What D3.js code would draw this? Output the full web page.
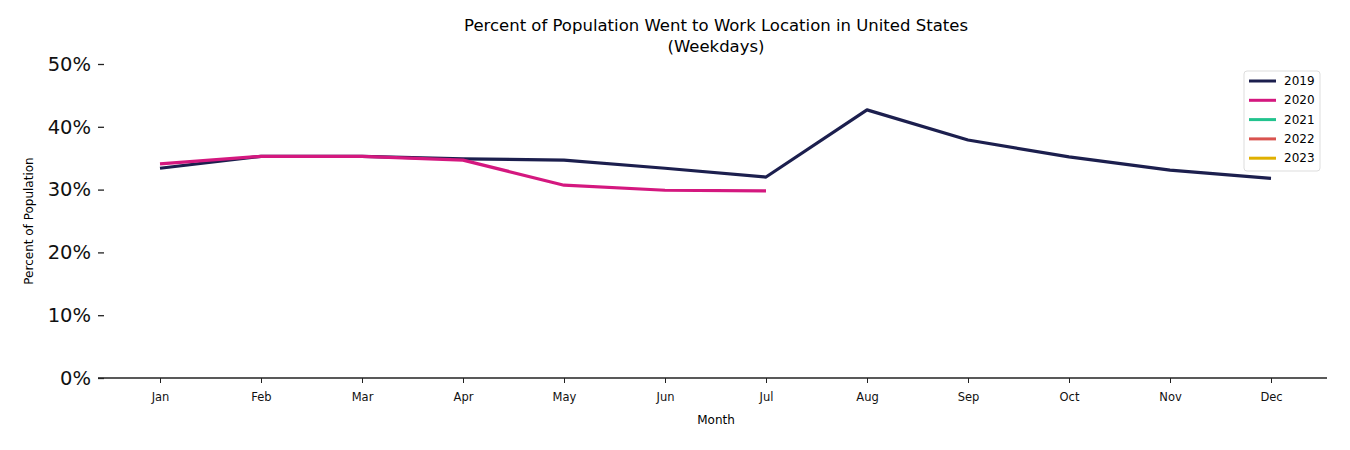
<!DOCTYPE html>
<html>
<head>
<meta charset="utf-8">
<script src="https://cdn.jsdelivr.net/npm/d3@7"></script>
<style>
  body { margin: 0; background: #fff; }
  text { font-family: "DejaVu Sans", sans-serif; }
</style>
</head>
<body>
<div id="chart"></div>
<script>
const months = ["Jan", "Feb", "Mar", "Apr", "May", "Jun", "Jul", "Aug", "Sep", "Oct", "Nov", "Dec"];
const years = ["2019", "2020", "2021", "2022", "2023"];
const colors = ["#1c1f4e", "#d4187f", "#22c38e", "#d9534f", "#e0b000"];
const v2019 = [33.4, 35.3, 35.3, 34.9, 34.7, 33.4, 32.0, 42.7, 37.9, 35.2, 33.1, 31.8];
const v2020 = [34.1, 35.3, 35.3, 34.7, 30.7, 29.9, 29.8];
const v2021 = [];
const v2022 = [];
const v2023 = [];
const yTicks = [0, 10, 20, 30, 40, 50];

const seriesValues = [v2019, v2020, v2021, v2022, v2023];

const width = 1350;
const height = 450;

const svg = d3.select("#chart")
    .append("svg")
    .attr("width", width)
    .attr("height", height);

const x = d3.scalePoint()
    .domain(months)
    .range([160, 1271]);

const y = d3.scaleLinear()
    .domain([0, 50])
    .range([378, 64]);

// bottom spine only
svg.append("line")
    .attr("x1", 98).attr("x2", 1327)
    .attr("y1", y(0)).attr("y2", y(0))
    .attr("stroke", "#222")
    .attr("stroke-width", 1.3);

const xAxis = svg.append("g")
    .attr("transform", `translate(0,${y(0)})`)
    .call(d3.axisBottom(x).tickSize(5).tickPadding(10));
xAxis.select(".domain").remove();
xAxis.selectAll("line").attr("stroke", "#222");
xAxis.selectAll("text").attr("font-size", 11.5).attr("fill", "#111");

const yAxis = svg.append("g")
    .attr("transform", "translate(104,0)")
    .call(d3.axisLeft(y).tickValues(yTicks).tickFormat(d => d + "%").tickSize(6).tickPadding(7));
yAxis.select(".domain").remove();
yAxis.selectAll("line").attr("stroke", "#222").attr("stroke-width", 1.3);
yAxis.selectAll("text").attr("font-size", 19.5).attr("fill", "#111");

const line = d3.line()
    .x((d, i) => x(months[i]))
    .y(d => y(d));

seriesValues.forEach((vals, i) => {
    if (!vals.length) return;
    svg.append("path")
        .datum(vals)
        .attr("fill", "none")
        .attr("stroke", colors[i])
        .attr("stroke-width", 3.2)
        .attr("stroke-linejoin", "round")
        .attr("d", line);
});

// title
svg.append("text")
    .attr("x", 716).attr("y", 31)
    .attr("text-anchor", "middle")
    .attr("font-size", 16.5)
    .text("Percent of Population Went to Work Location in United States");
svg.append("text")
    .attr("x", 716).attr("y", 52)
    .attr("text-anchor", "middle")
    .attr("font-size", 16.5)
    .text("(Weekdays)");

// axis labels
svg.append("text")
    .attr("x", 716).attr("y", 424)
    .attr("text-anchor", "middle")
    .attr("font-size", 12)
    .text("Month");
svg.append("text")
    .attr("transform", "translate(33,221) rotate(-90)")
    .attr("text-anchor", "middle")
    .attr("font-size", 12)
    .text("Percent of Population");

// legend
const legend = svg.append("g").attr("transform", "translate(1244,71)");
legend.append("rect")
    .attr("width", 76).attr("height", 100)
    .attr("rx", 3)
    .attr("fill", "#fff")
    .attr("fill-opacity", 0.85)
    .attr("stroke", "#ddd");
years.forEach((yr, i) => {
    const g = legend.append("g").attr("transform", `translate(0,${10 + i * 19.3})`);
    g.append("line")
        .attr("x1", 5).attr("x2", 32)
        .attr("stroke", colors[i])
        .attr("stroke-width", 3);
    g.append("text")
        .attr("x", 40).attr("y", 4)
        .attr("font-size", 12)
        .text(yr);
});
</script>
</body>
</html>
